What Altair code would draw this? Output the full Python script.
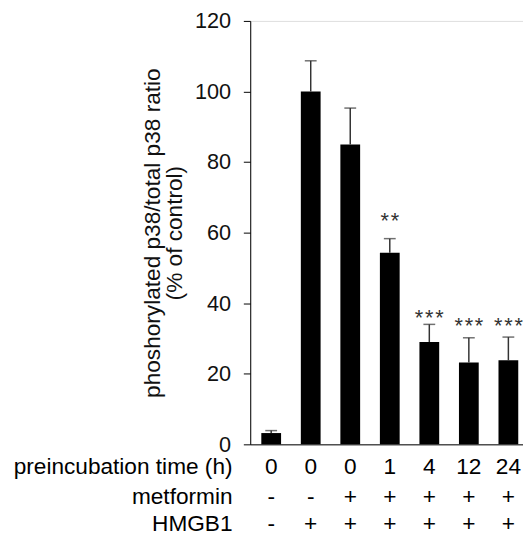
import altair as alt
import pandas as pd

# ---- data ----
groups = ["g1", "g2", "g3", "g4", "g5", "g6", "g7"]
time_labels = ["0", "0", "0", "1", "4", "12", "24"]
metformin = ["-", "-", "+", "+", "+", "+", "+"]
hmgb1 = ["-", "+", "+", "+", "+", "+", "+"]
values = [3.2, 100.0, 85.0, 54.3, 29.0, 23.2, 23.8]
err_top = [3.9, 108.7, 95.3, 58.3, 34.0, 30.2, 30.4]
stars = ["", "", "", "*\u200a*", "*\u200a*\u200a*", "*\u200a*\u200a*", "*\u200a*\u200a*"]
star_y = [None, None, None, 61.3, 33.9, 31.5, 31.5]
row_names = ["preincubation time (h)", "metformin", "HMGB1"]

FONT = "Liberation Sans"
FS = 23
W, H = 277, 430

df = pd.DataFrame({
    "group": groups, "time": time_labels, "met": metformin, "hmgb": hmgb1,
    "value": values, "err": err_top, "stars": stars, "star_y": star_y,
})

xscale = alt.Scale(domain=groups, paddingInner=0.5, paddingOuter=0.2, align=0.7)
x = alt.X("group:N", scale=xscale,
          axis=alt.Axis(labels=False, ticks=False, title=None, domainColor="#000",
                        domainWidth=1))
yscale = alt.Scale(domain=[0, 120])

base = alt.Chart(df)

bars = base.mark_bar(color="#000").encode(
    x=x,
    y=alt.Y("value:Q", scale=yscale,
            axis=alt.Axis(values=[0, 20, 40, 60, 80, 100, 120], grid=False,
                          labelFont=FONT, labelFontSize=22, labelColor="#111",
                          tickSize=7, tickColor="#000", domainColor="#000",
                          labelPadding=13,
                          title=["phoshorylated p38/total p38 ratio", "(% of control)"],
                          titleFont=FONT, titleFontSize=FS, titleFontWeight="normal",
                          titleColor="#111", titleAngle=270, titleLineHeight=22,
                          titleBaseline="middle", titleAlign="center",
                          titleX=-99, titleY=H / 2)),
)

err_rule = base.mark_rule(color="#333", strokeWidth=1.5).encode(
    x=alt.X("group:N", scale=xscale), y="value:Q", y2="err:Q")
err_cap = base.mark_tick(color="#333", thickness=1.5, size=12).encode(
    x=alt.X("group:N", scale=xscale), y=alt.Y("err:Q", scale=yscale))

star_text = base.transform_filter("datum.stars != ''").mark_text(
    font=FONT, fontSize=22, color="#333", baseline="alphabetic"
).encode(x=alt.X("group:N", scale=xscale), y=alt.Y("star_y:Q", scale=yscale),
         text="stars:N")

# baselines of the three table rows, in pixels below the plot top
row_y = [460, 491, 518]
txt_kw = dict(font=FONT, fontSize=FS, color="#000", baseline="alphabetic")
row1 = base.mark_text(**txt_kw).encode(x=alt.X("group:N", scale=xscale),
                                       y=alt.value(row_y[0]), text="time:N")
row2 = base.mark_text(**txt_kw).encode(x=alt.X("group:N", scale=xscale),
                                       y=alt.value(row_y[1]), text="met:N")
row3 = base.mark_text(**txt_kw).encode(x=alt.X("group:N", scale=xscale),
                                       y=alt.value(row_y[2]), text="hmgb:N")

names_df = pd.DataFrame({"name": row_names, "ypix": row_y})
names = alt.Chart(names_df).mark_text(font=FONT, fontSize=FS, color="#000",
                                      baseline="alphabetic", align="right").encode(
    x=alt.value(-18), y=alt.Y("ypix:Q", scale=None), text="name:N")

chart = alt.layer(bars, err_rule, err_cap, star_text, row1, row2, row3, names).properties(
    width=W, height=H,
    padding={"left": 246, "top": 9, "right": 0, "bottom": 92},
    autosize=alt.AutoSizeParams(type="none"),
).configure_view(stroke=None).configure(background="white")

chart.save("out.html", embed_options={"renderer": "svg", "actions": False})
